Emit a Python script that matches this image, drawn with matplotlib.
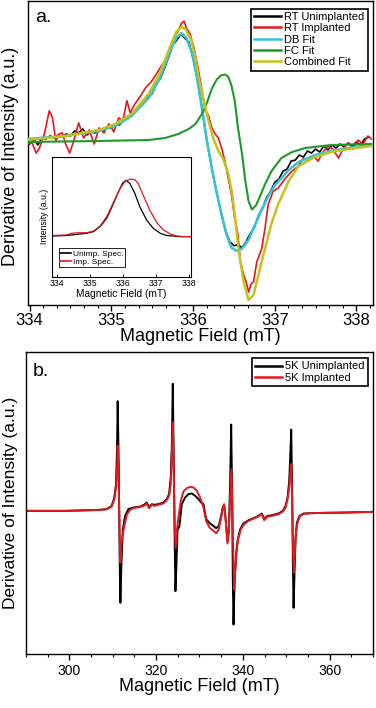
import matplotlib
matplotlib.use("Agg")
import matplotlib.pyplot as plt
from matplotlib.ticker import MultipleLocator, NullLocator

plt.rcParams['font.family'] = ['Liberation Sans', 'DejaVu Sans']

# ---- panel a: RT spectra and fits ----
rt_unimp_x = [334.00, 334.05, 334.10, 334.15, 334.20, 334.25, 334.30, 334.35, 334.40, 334.45,
              334.50, 334.55, 334.60, 334.65, 334.70, 334.75, 334.80, 334.85, 334.90, 334.95,
              335.00, 335.05, 335.10, 335.15, 335.20, 335.25, 335.30, 335.35, 335.40, 335.45,
              335.50, 335.55, 335.60, 335.65, 335.70, 335.75, 335.80, 335.85, 335.90, 335.95,
              336.00, 336.05, 336.10, 336.15, 336.20, 336.25, 336.30, 336.35, 336.40, 336.45,
              336.50, 336.55, 336.60, 336.65, 336.70, 336.75, 336.80, 336.85, 336.90, 336.95,
              337.00, 337.05, 337.10, 337.15, 337.20, 337.25, 337.30, 337.35, 337.40, 337.45,
              337.50, 337.55, 337.60, 337.65, 337.70, 337.75, 337.80, 337.85, 337.90, 337.95,
              338.00, 338.05, 338.10, 338.15]
rt_unimp_y = [-0.03, 0.02, -0.04, 0.03, 0.02, 0.05, 0.03, 0.06, 0.04, 0.07,
              0.05, 0.10, 0.08, 0.12, 0.06, 0.09, 0.08, 0.12, 0.10, 0.14,
              0.13, 0.17, 0.16, 0.21, 0.22, 0.28, 0.29, 0.35, 0.38, 0.44,
              0.47, 0.57, 0.62, 0.72, 0.83, 0.95, 1.00, 1.06, 1.02, 0.98,
              0.82, 0.62, 0.38, 0.10, -0.14, -0.36, -0.55, -0.74, -0.90, -1.00,
              -1.04, -1.03, -1.06, -1.00, -0.92, -0.86, -0.74, -0.67, -0.56, -0.50,
              -0.41, -0.38, -0.30, -0.28, -0.20, -0.19, -0.14, -0.16, -0.10, -0.12,
              -0.08, -0.11, -0.05, -0.09, -0.04, -0.07, -0.03, -0.06, -0.02, -0.05,
              -0.01, -0.04, 0.02, 0.04]

rt_imp_x = [333.97, 334.03, 334.08, 334.12, 334.18, 334.24, 334.28, 334.32, 334.36, 334.40,
            334.44, 334.49, 334.54, 334.60, 334.66, 334.73, 334.79, 334.85, 334.91, 334.97,
            335.03, 335.09, 335.14, 335.19, 335.23, 335.29, 335.36, 335.42, 335.48, 335.54,
            335.60, 335.66, 335.71, 335.76, 335.81, 335.86, 335.89, 335.92, 335.96, 336.01,
            336.06, 336.11, 336.15, 336.19, 336.23, 336.27, 336.31, 336.35, 336.39, 336.43,
            336.47, 336.51, 336.55, 336.58, 336.62, 336.65, 336.68, 336.71, 336.74, 336.78,
            336.84, 336.88, 336.92, 336.98, 337.04, 337.12, 337.21, 337.29, 337.35, 337.41,
            337.47, 337.53, 337.59, 337.65, 337.71, 337.78, 337.84, 337.90, 337.96, 338.02,
            338.08, 338.14, 338.18]
rt_imp_y = [-0.03, -0.02, -0.12, -0.07, 0.07, 0.30, 0.23, 0.00, 0.07, 0.08,
            -0.03, -0.12, 0.00, 0.18, 0.03, 0.11, -0.03, 0.13, 0.08, 0.17,
            0.09, 0.23, 0.20, 0.40, 0.28, 0.37, 0.45, 0.53, 0.58, 0.65,
            0.73, 0.80, 0.90, 1.02, 1.08, 1.17, 1.19, 1.12, 1.07, 0.93,
            0.73, 0.50, 0.30, 0.25, 0.13, 0.07, 0.03, -0.07, -0.20, -0.37,
            -0.53, -0.77, -0.93, -1.20, -1.33, -1.40, -1.50, -1.42, -1.40, -1.20,
            -1.07, -0.87, -0.63, -0.50, -0.47, -0.38, -0.30, -0.25, -0.17, -0.20,
            -0.15, -0.20, -0.11, -0.05, -0.08, -0.17, -0.07, -0.02, -0.08, 0.01,
            -0.03, 0.05, 0.02]

db_x = [333.97, 334.44, 334.85, 335.05, 335.25, 335.46, 335.58, 335.66, 335.74, 335.80,
        335.86, 335.92, 335.99, 336.05, 336.11, 336.17, 336.23, 336.29, 336.35, 336.41,
        336.47, 336.53, 336.60, 336.68, 336.76, 336.84, 336.92, 337.00, 337.17, 337.29,
        337.49, 337.69, 337.90, 338.18]
db_y = [0.02, 0.05, 0.10, 0.15, 0.25, 0.43, 0.60, 0.76, 0.93, 1.03,
        1.07, 1.02, 0.87, 0.62, 0.32, 0.00, -0.27, -0.52, -0.73, -0.93,
        -1.06, -1.09, -1.07, -0.98, -0.83, -0.68, -0.55, -0.44, -0.29, -0.21,
        -0.14, -0.10, -0.07, -0.04]

fc_x = [333.97, 334.85, 335.46, 335.66, 335.82, 335.95, 336.03, 336.11, 336.17, 336.23,
        336.29, 336.34, 336.39, 336.43, 336.47, 336.51, 336.55, 336.60, 336.64, 336.68,
        336.72, 336.77, 336.82, 336.88, 336.96, 337.08, 337.21, 337.37, 337.69, 338.18]
fc_y = [-0.01, 0.00, 0.01, 0.03, 0.07, 0.12, 0.17, 0.27, 0.38, 0.52,
        0.61, 0.65, 0.66, 0.64, 0.55, 0.40, 0.13, -0.13, -0.40, -0.60,
        -0.68, -0.64, -0.55, -0.43, -0.30, -0.17, -0.11, -0.07, -0.04, -0.03]

comb_x = [333.97, 334.44, 334.85, 335.05, 335.25, 335.46, 335.58, 335.66, 335.74, 335.80,
          335.86, 335.91, 335.98, 336.03, 336.07, 336.13, 336.19, 336.25, 336.31, 336.37,
          336.43, 336.48, 336.52, 336.56, 336.62, 336.68, 336.74, 336.80, 336.88, 336.96,
          337.04, 337.17, 337.29, 337.49, 337.69, 337.90, 338.18]
comb_y = [0.01, 0.05, 0.11, 0.17, 0.27, 0.47, 0.65, 0.81, 0.98, 1.09,
          1.13, 1.11, 1.00, 0.82, 0.62, 0.40, 0.20, 0.02, -0.10, -0.18,
          -0.32, -0.53, -0.80, -1.10, -1.40, -1.58, -1.53, -1.33, -1.07, -0.82,
          -0.63, -0.40, -0.25, -0.16, -0.11, -0.08, -0.05]

# inset: integrated spectra
inset_unimp_x = [333.85, 334.30, 334.60, 334.90, 335.11, 335.31, 335.51, 335.71, 335.86, 335.99,
                 336.09, 336.21, 336.36, 336.51, 336.71, 336.91, 337.12, 337.32, 337.72, 338.05]
inset_unimp_y = [0.00, 0.01, 0.03, 0.05, 0.08, 0.17, 0.32, 0.58, 0.79, 0.95,
                 1.00, 0.94, 0.76, 0.52, 0.29, 0.14, 0.05, 0.01, -0.01, -0.01]
inset_imp_x = [333.85, 334.30, 334.45, 334.65, 334.90, 335.11, 335.31, 335.51, 335.71, 335.91,
               336.06, 336.21, 336.36, 336.46, 336.61, 336.81, 337.02, 337.22, 337.42, 337.62,
               337.92, 338.05]
inset_imp_y = [0.01, 0.02, 0.05, 0.06, 0.06, 0.09, 0.18, 0.35, 0.60, 0.85,
               0.98, 1.02, 1.01, 0.94, 0.73, 0.46, 0.24, 0.11, 0.04, 0.00,
               -0.01, -0.01]

# ---- panel b: 5K spectra ----
k5_unimp_x = [290.00, 299.38, 307.08, 308.62, 309.77, 310.38, 310.77, 311.00, 311.15, 311.38,
              311.62, 311.77, 312.00, 312.31, 312.85, 313.62, 314.77, 316.31, 317.23, 317.85,
              318.38, 319.00, 319.54, 320.54, 321.69, 322.46, 323.00, 323.38, 323.62, 323.85,
              324.08, 324.31, 324.46, 324.69, 324.92, 325.38, 325.92, 326.69, 327.46, 328.23,
              329.00, 329.77, 330.38, 330.92, 331.54, 332.46, 333.23, 333.85, 334.46, 335.00,
              335.38, 335.69, 336.08, 336.46, 336.77, 337.08, 337.31, 337.54, 337.69, 337.85,
              338.08, 338.38, 338.77, 339.38, 340.15, 341.31, 342.46, 343.62, 344.38, 344.92,
              345.54, 346.69, 348.23, 349.23, 349.85, 350.31, 350.69, 350.92, 351.15, 351.38,
              351.54, 351.69, 351.92, 352.15, 352.46, 353.08, 354.00, 355.54, 358.62, 364.00,
              370.00]
k5_unimp_y = [0.00, 0.00, 0.03, 0.05, 0.15, 0.40, 0.80, 1.90, 3.28, 1.40,
              -1.60, -2.75, -1.60, -0.60, -0.15, 0.05, 0.10, 0.13, 0.18, 0.25,
              0.10, 0.20, 0.18, 0.20, 0.25, 0.35, 0.50, 1.00, 1.90, 3.80,
              1.40, -1.10, -2.40, -1.60, -0.60, -0.45, 0.20, 0.40, 0.50, 0.52,
              0.45, 0.35, 0.25, 0.20, -0.25, -0.38, -0.45, -0.52, -0.45, -0.15,
              0.10, 0.17, -0.30, -0.92, -0.60, 0.90, 2.58, 0.40, -2.10, -3.40,
              -2.20, -1.40, -0.90, -0.55, -0.38, -0.28, -0.22, -0.15, -0.08, -0.25,
              -0.16, -0.13, -0.08, 0.00, 0.15, 0.40, 0.90, 1.60, 2.43, 0.40,
              -1.60, -2.90, -1.80, -0.80, -0.35, -0.15, -0.08, -0.07, -0.06, -0.05,
              -0.03]

k5_imp_x = [290.00, 299.38, 307.08, 308.62, 309.77, 310.38, 310.77, 311.00, 311.15, 311.38,
            311.62, 311.77, 312.00, 312.46, 313.23, 314.00, 314.77, 316.31, 317.23, 317.85,
            318.38, 319.00, 319.54, 320.54, 321.69, 322.46, 323.00, 323.38, 323.62, 323.85,
            324.08, 324.31, 324.54, 324.77, 325.15, 325.69, 326.31, 327.08, 327.85, 328.62,
            329.38, 330.15, 330.92, 331.54, 332.31, 333.23, 333.85, 334.46, 335.00, 335.38,
            335.69, 336.08, 336.46, 336.77, 337.08, 337.38, 337.62, 337.85, 338.00, 338.23,
            338.54, 338.92, 339.54, 340.31, 341.31, 342.46, 343.62, 344.38, 344.92, 345.54,
            346.69, 348.23, 349.23, 349.85, 350.31, 350.69, 350.92, 351.15, 351.38, 351.54,
            351.77, 352.00, 352.31, 352.69, 353.23, 354.15, 355.54, 358.62, 364.00, 370.00]
k5_imp_y = [0.00, 0.00, 0.03, 0.05, 0.13, 0.35, 0.70, 1.20, 1.95, 0.90,
            -0.80, -1.55, -1.00, -0.60, -0.12, 0.03, 0.08, 0.12, 0.15, 0.22,
            0.08, 0.18, 0.15, 0.18, 0.22, 0.32, 0.45, 0.80, 1.60, 2.65,
            1.10, -0.60, -1.10, -0.60, -0.20, 0.30, 0.58, 0.68, 0.72, 0.70,
            0.60, 0.40, 0.10, -0.30, -0.50, -0.60, -0.67, -0.55, -0.20, 0.10,
            0.20, -0.35, -0.98, -0.60, 0.40, 1.25, -0.10, -1.60, -2.35, -1.80,
            -1.20, -0.85, -0.55, -0.40, -0.30, -0.23, -0.16, -0.10, -0.28, -0.18,
            -0.15, -0.10, -0.02, 0.10, 0.35, 0.70, 1.10, 1.40, 0.20, -1.00,
            -1.85, -1.20, -0.60, -0.30, -0.15, -0.09, -0.07, -0.06, -0.05, -0.03]

RED = "#e3191f"
CYAN = "#35c3d6"
GREEN = "#1d9a2a"
YELLOW = "#c6c11c"

fig = plt.figure(figsize=(3.76, 7.08), dpi=100)

def style_axis(ax):
    for sp in ax.spines.values():
        sp.set_linewidth(1.0)
    ax.yaxis.set_major_locator(NullLocator())
    ax.yaxis.set_minor_locator(NullLocator())
    ax.tick_params(axis="x", which="major", direction="out", length=4, width=1.0)
    ax.tick_params(axis="x", which="minor", direction="out", length=2.2, width=0.8)

# top panel
ax1 = fig.add_axes([0.0745, 0.569, 0.917, 0.4296])
ax1.plot(rt_unimp_x, rt_unimp_y, color="black", lw=1.2, label="RT Unimplanted", zorder=2)
ax1.plot(rt_imp_x, rt_imp_y, color=RED, lw=1.2, label="RT Implanted", zorder=3)
ax1.plot(db_x, db_y, color=CYAN, lw=1.8, label="DB Fit", zorder=4)
ax1.plot(fc_x, fc_y, color=GREEN, lw=1.5, label="FC Fit", zorder=5)
ax1.plot(comb_x, comb_y, color=YELLOW, lw=1.8, label="Combined Fit", zorder=6)
ax1.set_xlim(333.98, 338.2)
ax1.set_ylim(-1.63, 1.39)
style_axis(ax1)
ax1.xaxis.set_major_locator(MultipleLocator(1))
ax1.xaxis.set_minor_locator(MultipleLocator(1 / 6))
ax1.tick_params(axis="x", labelsize=12, pad=2)
ax1.set_xlabel("Magnetic Field (mT)", fontsize=13, labelpad=0)
ax1.set_ylabel("Derivative of Intensity (a.u.)", fontsize=13)
ax1.yaxis.set_label_coords(-0.027, 0.49)
ax1.text(0.02, 0.975, "a.", transform=ax1.transAxes, fontsize=14, va="top", ha="left")
leg1 = ax1.legend(loc="upper right", bbox_to_anchor=(0.985, 0.975), fontsize=8,
                  frameon=True, fancybox=False, edgecolor="black", framealpha=1,
                  labelspacing=0.12, handlelength=2.4, handletextpad=0.3,
                  borderpad=0.3, borderaxespad=0)
leg1.get_frame().set_linewidth(1.2)
for h in leg1.get_lines():
    h.set_linewidth(1.8)

# inset
axin = fig.add_axes([0.1375, 0.609, 0.3705, 0.1695])
axin.plot(inset_unimp_x, inset_unimp_y, color="black", lw=0.9, label="Unimp. Spec.")
axin.plot(inset_imp_x, inset_imp_y, color=RED, lw=0.9, label="Imp. Spec.")
axin.set_xlim(333.85, 338.05)
axin.set_ylim(-0.73, 1.42)
axin.set_xticks([334, 335, 336, 337, 338])
axin.set_yticks([])
for sp in axin.spines.values():
    sp.set_linewidth(0.8)
axin.tick_params(axis="x", direction="in", length=2, width=0.6, labelsize=6.3, pad=1.5)
axin.set_xlabel("Magnetic Field (mT)", fontsize=7.3, labelpad=0.5)
axin.set_ylabel("Intensity (a.u.)", fontsize=6.3, labelpad=2)
legin = axin.legend(loc="lower left", bbox_to_anchor=(0.05, 0.08), fontsize=6,
                    frameon=True, fancybox=False, edgecolor="black", framealpha=1,
                    labelspacing=0.0, handlelength=1.3, handletextpad=0.2,
                    borderpad=0.2, borderaxespad=0)
legin.get_frame().set_linewidth(0.6)
for h in legin.get_lines():
    h.set_linewidth(1.2)
axin.set_zorder(10)

# bottom panel
ax2 = fig.add_axes([0.069, 0.0763, 0.923, 0.4265])
ax2.plot(k5_unimp_x, k5_unimp_y, color="black", lw=1.4, label="5K Unimplanted")
ax2.plot(k5_imp_x, k5_imp_y, color=RED, lw=1.4, label="5K Implanted")
ax2.set_xlim(290, 370)
ax2.set_ylim(-4.28, 4.75)
style_axis(ax2)
ax2.xaxis.set_major_locator(MultipleLocator(20))
ax2.xaxis.set_minor_locator(MultipleLocator(5))
ax2.tick_params(axis="x", labelsize=10, pad=3)
ax2.set_xlabel("Magnetic Field (mT)", fontsize=13, labelpad=0)
ax2.set_ylabel("Derivative of Intensity (a.u.)", fontsize=12.5)
ax2.yaxis.set_label_coords(-0.022, 0.50)
ax2.text(0.02, 0.965, "b.", transform=ax2.transAxes, fontsize=14, va="top", ha="left")
leg2 = ax2.legend(loc="upper right", bbox_to_anchor=(0.985, 0.98), fontsize=8,
                  frameon=True, fancybox=False, edgecolor="black", framealpha=1,
                  labelspacing=0.12, handlelength=2.4, handletextpad=0.3,
                  borderpad=0.3, borderaxespad=0)
leg2.get_frame().set_linewidth(1.2)
for h in leg2.get_lines():
    h.set_linewidth(1.8)

fig.savefig("out.png", dpi=100)
